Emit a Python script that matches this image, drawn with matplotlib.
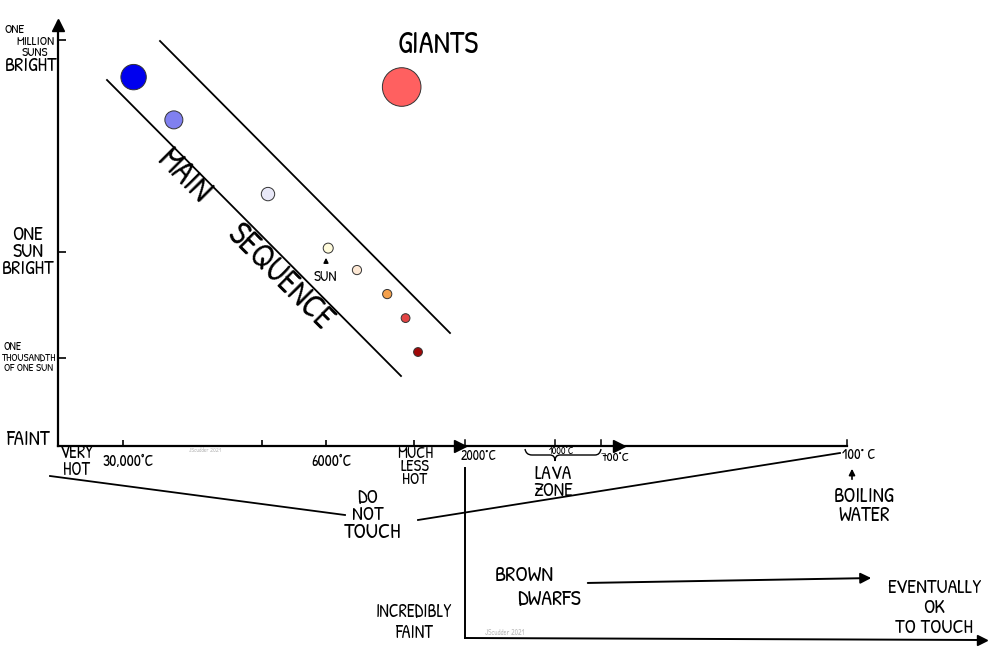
import numpy as np
import matplotlib.pyplot as plt
from matplotlib.path import Path
from matplotlib.patches import PathPatch

plt.rcParams['font.family'] = ['Patrick Hand', 'DejaVu Sans']

# --- Estrelas (temperatura em °C, log10 do brilho em sóis, raio em px) ---
star_names = ['O', 'B', 'A', 'Sun', 'K', 'K2', 'M', 'M2', 'Giant']
star_temp = [27500, 20000, 9500, 5900, 4700, 3700, 3200, 2900, 3300]
star_logL = [4.94, 3.73, 1.63, 0.10, -0.52, -1.20, -1.88, -2.84, 4.66]
star_radius = [12.7, 9.0, 6.7, 5.0, 4.6, 4.6, 4.4, 4.4, 19.3]
star_color = ['#0000ee', '#8080f0', '#e8e8f8', '#fffbdc', '#fde8d4',
              '#f4a04c', '#e24444', '#a00808', '#ff6060']

# --- Eixos ---
temp_ticks = [30000, 10000, 6000, 3000]
temp_labels = ['30,000°C', '', '6000°C', 'MUCH\nLESS\nHOT']
temp_range = [50000, 2000]
lum_ticks = [6, 0, -3]
lum_range = [-5.5, 6.5]

fig = plt.figure(figsize=(10, 6.63), dpi=100)

# camada de desenho livre, em pixels
ov = fig.add_axes([0, 0, 1, 1])
ov.set_xlim(0, 1000)
ov.set_ylim(663, 0)
ov.set_axis_off()

# diagrama H-R principal
ax = fig.add_axes([58 / 1000, (663 - 446) / 663, (465 - 58) / 1000, (446 - 22) / 663])
ax.patch.set_alpha(0)
ax.set_xlim(np.log10(temp_range[0]), np.log10(temp_range[1]))
ax.set_ylim(lum_range)
ax.spines['top'].set_visible(False)
ax.spines['right'].set_visible(False)
for s in ['left', 'bottom']:
    ax.spines[s].set_linewidth(1.6)
ax.set_xticks(np.log10(temp_ticks))
ax.set_yticks(lum_ticks)
ax.tick_params(axis='both', direction='in', width=1.2, labelbottom=False, labelleft=False)
ax.tick_params(axis='x', length=4)
ax.tick_params(axis='y', length=6)

sizes = [(1.44 * r) ** 2 for r in star_radius]
ax.scatter(np.log10(star_temp), star_logL, s=sizes, c=star_color,
           edgecolors='#333333', linewidths=0.7, zorder=3, clip_on=False)

# setas dos eixos
ov.plot(460, 446, marker='>', ms=9, color='k', clip_on=False)
ov.plot(58, 25, marker='^', ms=9, color='k', clip_on=False)


def label(x, y, s, size, spacing=0.8, **kw):
    # desloca um pouco para baixo: a fonte centraliza contando a descendente
    dy = 0 if 'rotation' in kw else 0.15 * size
    ov.text(x, y + dy, s, fontsize=size, ha='center', va='center',
            multialignment='center', linespacing=spacing, **kw)


# faixa da sequência principal
ov.plot([107, 401], [80, 376], color='k', lw=1.3)
ov.plot([160, 450], [41, 333], color='k', lw=1.3)
label(182, 178, 'MAIN', 24, rotation=-45)
label(278, 279, 'SEQUENCE', 24, rotation=-45)
label(438, 43, 'GIANTS', 22)

# sol
ov.annotate('', xy=(326, 255), xytext=(326, 266),
            arrowprops=dict(arrowstyle='-|>', color='k', lw=1, mutation_scale=7))
label(325, 276, 'SUN', 11)

# rótulos do eixo y
label(15, 29.5, 'ONE', 9.5)
label(35, 46.5, 'MILLION\nSUNS', 9.5, spacing=0.72)
label(31, 65, 'BRIGHT', 14.5)
label(28, 251, 'ONE\nSUN\nBRIGHT', 14.5, spacing=0.8)
label(13, 346, 'ONE', 8.5)
label(28, 362, 'THOUSANDTH\nOF ONE SUN', 8, spacing=0.9)
label(28, 439, 'FAINT', 15)

# rótulos do eixo x
label(77, 461, 'VERY\nHOT', 13, spacing=0.78)
x_px = 58 + (np.log10(temp_range[0]) - np.log10(temp_ticks)) / \
    (np.log10(temp_range[0]) - np.log10(temp_range[1])) * (465 - 58)
for xp, lab in zip(x_px, temp_labels):
    if not lab:
        continue
    if '\n' in lab:
        label(xp + 1, 465.5, lab, 12, spacing=0.69)
    else:
        label(xp + 5, 461, lab, 11.5)
label(205, 450, 'JScudder 2021', 4.5, color='#bbbbbb', style='italic')

# extensão do eixo x (2000 °C até 100 °C)
ov.plot([465, 847], [446, 446], color='k', lw=1.6)
ov.plot(619, 446, marker='>', ms=8, color='k')
for xt in [465, 555, 601, 847]:
    ov.plot([xt, xt], [446, 440], color='k', lw=1.1)
label(479, 455, '2000°C', 10)
label(562, 450, '1000°C', 7.5)
label(615, 457, '700°C', 9.5)
label(859, 454, '100° C', 10.5)
brace = Path([(525, 449), (526, 455), (532, 455), (550, 455), (555, 455), (555, 461),
              (555, 455), (560, 455), (595, 455), (600, 455), (601, 449)],
             [Path.MOVETO, Path.CURVE3, Path.CURVE3, Path.LINETO, Path.CURVE3, Path.CURVE3,
              Path.CURVE3, Path.CURVE3, Path.LINETO, Path.CURVE3, Path.CURVE3])
ov.add_patch(PathPatch(brace, facecolor='none', edgecolor='k', lw=1))
label(553, 481.5, 'LAVA\nZONE', 14, spacing=0.77)
ov.annotate('', xy=(852, 466), xytext=(852, 482),
            arrowprops=dict(arrowstyle='-|>', color='k', lw=1.2, mutation_scale=9))
label(864, 505, 'BOILING\nWATER', 15, spacing=0.77)

# não tocar
ov.plot([50, 345], [476, 515], color='k', lw=1.3)
ov.plot([418, 840], [520, 453], color='k', lw=1.3)
label(368, 505, 'DO\nNOT', 14.5, spacing=0.8)
label(373, 532, 'TOUCH', 16)

# anãs marrons
ov.plot([465, 465], [468, 638], color='k', lw=1.4)
ov.plot([465, 982], [638, 640], color='k', lw=1.4)
ov.plot(982, 640, marker='>', ms=7, color='k')
ov.annotate('', xy=(874, 578), xytext=(585, 583),
            arrowprops=dict(arrowstyle='-|>', color='k', lw=1.4, mutation_scale=16))
label(524, 575, 'BROWN', 16)
label(549, 599, 'DWARFS', 16)
label(414, 621.5, 'INCREDIBLY\nFAINT', 13, spacing=1.05)
label(934, 607, 'EVENTUALLY\nOK\nTO TOUCH', 14.5, spacing=1.0)
label(505, 633, 'JScudder 2021', 5.5, color='#bbbbbb', style='italic')

plt.savefig('out.png', dpi=100)
